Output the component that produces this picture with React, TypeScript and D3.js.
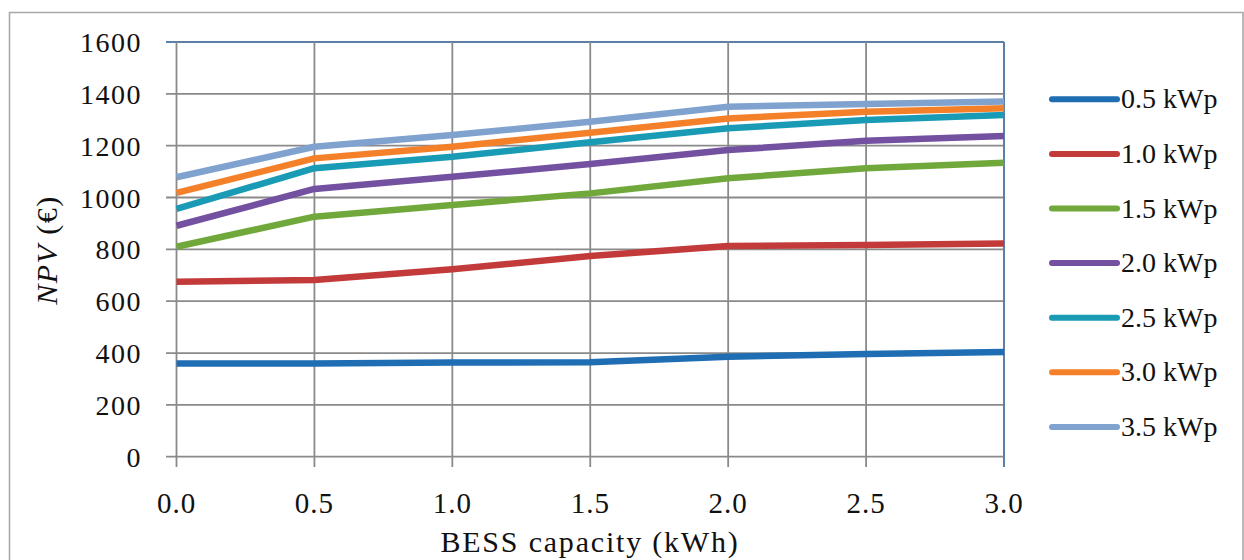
import React from "react";
import * as d3 from "d3";

const capacities = [0.0, 0.5, 1.0, 1.5, 2.0, 2.5, 3.0];
const seriesNames = ["0.5 kWp", "1.0 kWp", "1.5 kWp", "2.0 kWp", "2.5 kWp", "3.0 kWp", "3.5 kWp"];
const s05 = [360, 360, 363, 364, 386, 396, 404];
const s10 = [675, 682, 723, 774, 813, 817, 823];
const s15 = [810, 926, 971, 1016, 1074, 1113, 1134];
const s20 = [891, 1033, 1080, 1129, 1183, 1219, 1237];
const s25 = [956, 1113, 1157, 1213, 1267, 1299, 1318];
const s30 = [1018, 1151, 1196, 1250, 1305, 1331, 1344];
const s35 = [1078, 1196, 1241, 1292, 1350, 1361, 1370];
const seriesColors = ["#1f6db3", "#c23b3a", "#70a83b", "#7350a0", "#1a9bb5", "#f4812a", "#7fa2cf"];
const yTicks = [0, 200, 400, 600, 800, 1000, 1200, 1400, 1600];
const xTickLabels = ["0.0", "0.5", "1.0", "1.5", "2.0", "2.5", "3.0"];

const allSeries = [s05, s10, s15, s20, s25, s30, s35];

export default function App() {
  const W = 1244;
  const H = 560;
  const x = d3.scaleLinear().domain([0, 3]).range([176.5, 1004]);
  const y = d3.scaleLinear().domain([0, 1600]).range([456.7, 42]);
  const line = d3
    .line<number>()
    .x((_, i) => x(capacities[i]))
    .y((d) => y(d));
  const font = "'Liberation Serif', 'Times New Roman', serif";
  const gridColor = "#8a8a8a";
  const borderBlue = "#5b7fa6";
  const legendY0 = 99.3;
  const legendStep = 54.6;

  return (
    <svg
      width={W}
      height={H}
      style={{ position: "fixed", left: 0, top: 0, background: "#fff" }}
      fontFamily={font}
    >
      <rect x={0} y={0} width={W} height={H} fill="#fff" />
      {/* outer frame */}
      <path d={`M9.5,${H + 2} V12.5 H1243 V${H + 2}`} fill="none" stroke="#a8a8a8" strokeWidth={1.6} />

      {/* horizontal grid */}
      {yTicks.map((t) => (
        <line
          key={"h" + t}
          x1={166}
          x2={x(3)}
          y1={y(t)}
          y2={y(t)}
          stroke={t === 1600 ? borderBlue : gridColor}
          strokeWidth={t === 1600 ? 2 : 1.8}
        />
      ))}
      {/* vertical grid */}
      {capacities.map((c, i) => (
        <line
          key={"v" + i}
          x1={x(c)}
          x2={x(c)}
          y1={y(1600)}
          y2={467}
          stroke={i === capacities.length - 1 ? borderBlue : gridColor}
          strokeWidth={i === capacities.length - 1 ? 2 : 1.8}
        />
      ))}

      {/* y tick labels */}
      {yTicks.map((t) => (
        <text
          key={"yl" + t}
          x={142}
          y={y(t) + 10}
          textAnchor="end"
          fontSize={28}
          letterSpacing={1.5}
          fill="#111"
        >
          {t}
        </text>
      ))}
      {/* x tick labels */}
      {capacities.map((c, i) => (
        <text
          key={"xl" + i}
          x={x(c)}
          y={513}
          textAnchor="middle"
          fontSize={29}
          letterSpacing={1}
          fill="#111"
        >
          {xTickLabels[i]}
        </text>
      ))}

      {/* axis titles */}
      <text x={590} y={552} textAnchor="middle" fontSize={30} letterSpacing={1.8} fill="#111">
        BESS capacity (kWh)
      </text>
      <text
        transform={`translate(57,250) rotate(-90)`}
        textAnchor="middle"
        fontSize={30}
        letterSpacing={1.5}
        fill="#111"
      >
        <tspan fontStyle="italic">NPV</tspan>
        <tspan> (€)</tspan>
      </text>

      {/* series lines */}
      {allSeries.map((s, i) => (
        <path
          key={"s" + i}
          d={line(s) || ""}
          fill="none"
          stroke={seriesColors[i]}
          strokeWidth={6.5}
          strokeLinejoin="round"
        />
      ))}

      {/* legend */}
      {seriesNames.map((n, i) => {
        const ly = legendY0 + i * legendStep;
        return (
          <g key={"lg" + i}>
            <line
              x1={1052}
              x2={1117}
              y1={ly}
              y2={ly}
              stroke={seriesColors[i]}
              strokeWidth={6}
              strokeLinecap="round"
            />
            <text x={1121} y={ly + 9} fontSize={28} fill="#111">
              {n}
            </text>
          </g>
        );
      })}
    </svg>
  );
}
